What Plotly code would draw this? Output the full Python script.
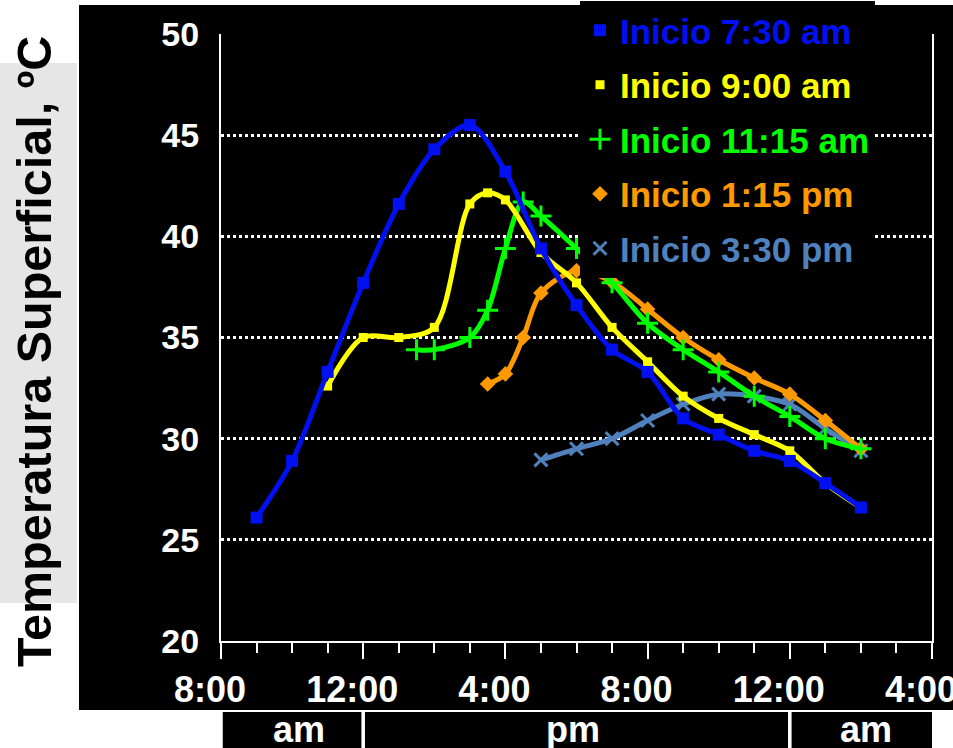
import plotly.graph_objects as go

# ---------------- data (time in hours from midnight of day 1; 24+ = next day) ----------------
series_names = ["Inicio 7:30 am", "Inicio 9:00 am", "Inicio 11:15 am", "Inicio 1:15 pm", "Inicio 3:30 pm"]

blue_t = [9, 10, 11, 12, 13, 14, 15, 16, 17, 18, 19, 20, 21, 22, 23, 24, 25, 26]
blue_v = [26.1, 28.9, 33.3, 37.7, 41.6, 44.3, 45.5, 43.2, 39.4, 36.6, 34.4, 33.3, 31.0, 30.2, 29.4, 28.9, 27.8, 26.6]

yellow_t = [11, 12, 13, 14, 15, 15.5, 16, 17, 18, 19, 20, 21, 22, 23, 24, 25, 26]
yellow_v = [32.6, 35.0, 35.0, 35.5, 41.6, 42.15, 41.8, 39.2, 37.7, 35.5, 33.8, 32.1, 31.0, 30.2, 29.4, 27.8, 26.6]

green_t = [13.5, 14, 15, 15.5, 16, 16.5, 17, 18, 19, 20, 21, 22, 23, 24, 25, 26]
green_v = [34.4, 34.4, 35.0, 36.35, 39.4, 41.7, 41.0, 39.4, 37.7, 35.7, 34.4, 33.3, 32.1, 31.1, 30.0, 29.5]

orange_t = [15.5, 16, 16.5, 17, 18, 19, 20, 21, 22, 23, 24, 25, 26]
orange_v = [32.7, 33.2, 35.0, 37.2, 38.3, 37.75, 36.4, 35.0, 33.9, 33.0, 32.2, 30.9, 29.5]

steel_t = [17, 18, 19, 20, 21, 22, 23, 24, 25, 26]
steel_v = [28.95, 29.5, 30.0, 30.9, 31.7, 32.2, 32.1, 31.7, 30.5, 29.4]

x_tickvals = [8, 12, 16, 20, 24, 28]
x_ticktext = ["8:00", "12:00", "4:00", "8:00", "12:00", "4:00"]
y_tickvals = [20, 25, 30, 35, 40, 45, 50]

period_labels = ["am", "pm", "am"]
period_spans = [(8, 12), (12, 24), (24, 28)]
period_label_pos = [10.2, 17.9, 26.15]

# ---------------- styles ----------------
colors = ["#0010f0", "#ffff00", "#00ff00", "#ff9900", "#4f81bd"]
symbols = ["square", "square", "cross-thin", "diamond", "x-thin"]
msizes = [12, 9, 15, 12, 13]
FONT = "Liberation Sans, Arial, sans-serif"

W, H = 953, 748
L, R, T, B = 221, 21, 34, 107
pw, ph = W - L - R, H - T - B


def px_x(p):
    return (p - L) / pw


def px_y(p):
    return (H - B - p) / ph


data = [(blue_t, blue_v), (yellow_t, yellow_v), (green_t, green_v), (orange_t, orange_v), (steel_t, steel_v)]

fig = go.Figure()


def marker_for(i):
    m = dict(symbol=symbols[i], size=msizes[i], color=colors[i])
    if symbols[i].endswith("-thin"):
        m["line"] = dict(color=colors[i], width=3)
    return m


# legend-only entries (markers only, as in the reference)
for i, name in enumerate(series_names):
    fig.add_trace(go.Scatter(
        x=[None], y=[None], mode="markers",
        name=f"<span style='color:{colors[i]}'><b>{name}</b></span>",
        legendgroup=f"g{i}", marker=marker_for(i), showlegend=True,
    ))

# data traces, drawn bottom -> top
for i in [4, 3, 2, 1, 0]:
    t, v = data[i]
    fig.add_trace(go.Scatter(
        x=t, y=v, mode="lines+markers",
        line=dict(color=colors[i], width=5, shape="spline", smoothing=0.9),
        marker=marker_for(i), legendgroup=f"g{i}", showlegend=False,
        name=series_names[i],
    ))

shapes = []
# black chart background
shapes.append(dict(type="rect", xref="paper", yref="paper",
                   x0=px_x(79), x1=px_x(960), y0=px_y(710), y1=px_y(5),
                   fillcolor="black", line=dict(width=0), layer="below"))
# grey box behind axis title
shapes.append(dict(type="rect", xref="paper", yref="paper",
                   x0=px_x(-5), x1=px_x(77), y0=px_y(603), y1=px_y(63),
                   fillcolor="#e6e6e6", line=dict(width=0), layer="below"))
# am / pm boxes
for (a, b) in period_spans:
    shapes.append(dict(type="rect", xref="x", yref="paper",
                       x0=a + 0.05, x1=b - 0.05 if b < 28 else b,
                       y0=px_y(760), y1=px_y(712),
                       fillcolor="black", line=dict(width=0), layer="below"))

annotations = []
for lab, xp in zip(period_labels, period_label_pos):
    annotations.append(dict(x=xp, y=px_y(729), xref="x", yref="paper", text=lab,
                            showarrow=False, font=dict(family=FONT, size=36, color="white", weight="bold"),
                            xanchor="center", yanchor="middle"))
annotations.append(dict(x=px_x(34), y=px_y(352), xref="paper", yref="paper",
                        text="Temperatura Superficial, ºC", textangle=-90, showarrow=False,
                        font=dict(family=FONT, size=48.5, color="black", weight="bold"),
                        xanchor="center", yanchor="middle"))

fig.update_layout(
    width=W, height=H,
    margin=dict(l=L, r=R, t=T, b=B, pad=0, autoexpand=False),
    paper_bgcolor="white", plot_bgcolor="black",
    font=dict(family=FONT, color="white"),
    shapes=shapes, annotations=annotations,
    showlegend=True,
    legend=dict(x=px_x(580), y=px_y(1), xanchor="left", yanchor="top",
                bgcolor="black", borderwidth=0, traceorder="grouped", tracegroupgap=6,
                font=dict(family=FONT, size=35, weight="bold"), itemwidth=30),
    xaxis=dict(range=[8, 28], tickvals=x_tickvals, ticktext=x_ticktext,
               showgrid=False, zeroline=False, showline=True, linecolor="white", linewidth=2,
               ticks="outside", ticklen=16, tickwidth=2, tickcolor="white",
               tickfont=dict(family=FONT, size=36, color="white", weight="bold"),
               ticklabelshift=-11, ticklabelstandoff=0, ticklabeloverflow="allow",
               minor=dict(dtick=1, ticks="outside", ticklen=10, tickwidth=2, tickcolor="white", showgrid=False)),
    yaxis=dict(range=[20, 50], tickvals=y_tickvals, showgrid=False, zeroline=False,
               showline=True, mirror=True, linecolor="white", linewidth=2, ticks="",
               tickfont=dict(family=FONT, size=34, color="white", weight="bold"),
               ticklabelstandoff=13,
               minor=dict(tickvals=[25, 30, 35, 40, 45], showgrid=True, gridcolor="white",
                          griddash="dot", gridwidth=2.5, ticks="")),
)

fig.write_html("out.html", config={"displayModeBar": False},
               post_script="document.body.style.margin='0';")
